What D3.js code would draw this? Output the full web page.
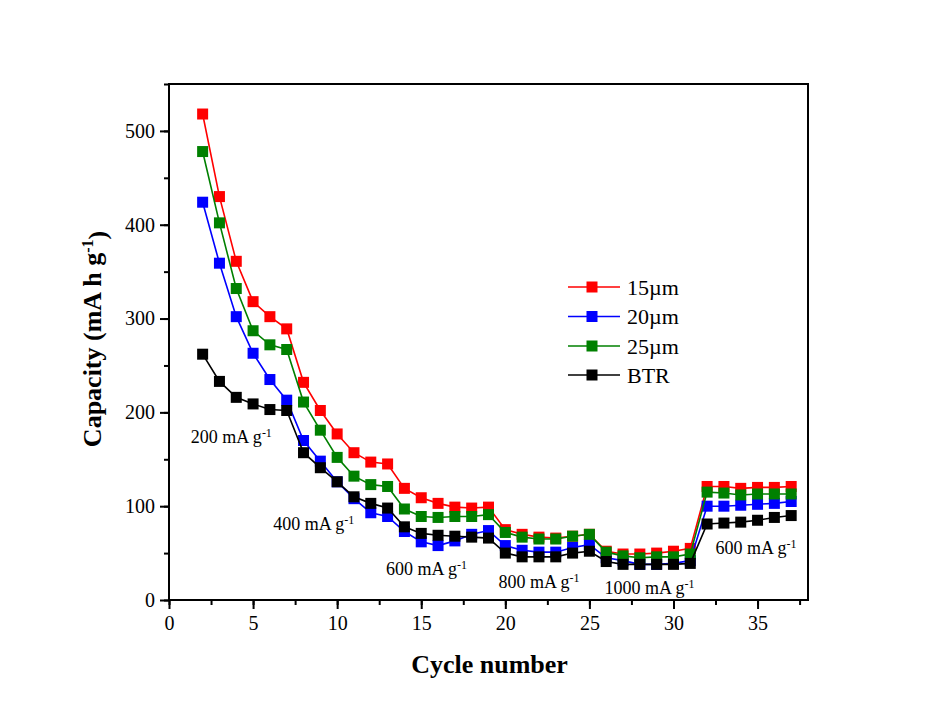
<!DOCTYPE html>
<html>
<head>
<meta charset="utf-8">
<script src="https://cdn.jsdelivr.net/npm/d3@7"></script>
<style>
  html, body { margin: 0; padding: 0; background: #fff; }
  svg { display: block; }
  text { font-family: "Liberation Serif", "Times New Roman", serif; }
</style>
</head>
<body>
<svg id="chart" width="940" height="720"></svg>
<script>
// ---------- data ----------
const cycles = d3.range(2, 38);
const seriesNames = ["15\u00b5m", "20\u00b5m", "25\u00b5m", "BTR"];
const seriesColors = ["#ff0000", "#0000ff", "#008000", "#000000"];
const cap15 = [518,430,361,318,302,289,232,202,177,157,147,145,
               119,109,103,99,98,99,75,70,67,66,68,70,
               52,49,49,50,52,55,121,121,119,120,120,121];
const cap20 = [424,359,302,263,235,213,170,148,126,108,93,89,
               73,62,58,63,70,74,58,53,51,51,56,59,
               45,42,38,38,39,42,100,100,101,102,103,105];
const cap25 = [478,402,332,287,272,267,211,181,152,132,123,121,
               97,89,88,89,89,91,72,67,65,65,68,70,
               51,47,45,46,46,49,115,114,112,113,113,113];
const capBTR = [262,233,216,209,203,202,157,141,126,110,103,98,
                78,71,69,68,67,66,50,46,46,46,50,52,
                41,38,38,38,38,39,81,82,83,85,88,90];
const xTicks = [0,5,10,15,20,25,30,35];
const yTicks = [0,100,200,300,400,500];
const rateLabels = ["200 mA g", "400 mA g", "600 mA g", "800 mA g", "1000 mA g", "600 mA g"];
const rateLabelPos = [[1.3, 167], [6.2, 75], [12.9, 27], [19.6, 13], [25.9, 6], [32.5, 49]];

// ---------- layout ----------
const svg = d3.select("#chart");
const pL = 169, pR = 808, pT = 84, pB = 600;
const x = d3.scaleLinear().domain([0, 38]).range([pL, pR]);
const y = d3.scaleLinear().domain([0, 550]).range([pB, pT]);

const yMinor = d3.range(0, 551, 50);
const xMinor = d3.range(0, 38.1, 2.5);

const gxMinor = svg.append("g").attr("transform", `translate(0,${pB})`)
  .call(d3.axisBottom(x).tickValues(xMinor).tickSize(5).tickFormat(""));
const gx = svg.append("g").attr("transform", `translate(0,${pB})`)
  .call(d3.axisBottom(x).tickValues(xTicks).tickSize(9).tickPadding(7).tickFormat(d3.format("d")));
const gyMinor = svg.append("g").attr("transform", `translate(${pL},0)`)
  .call(d3.axisLeft(y).tickValues(yMinor).tickSize(5).tickFormat(""));
const gy = svg.append("g").attr("transform", `translate(${pL},0)`)
  .call(d3.axisLeft(y).tickValues(yTicks).tickSize(9).tickPadding(5).tickFormat(d3.format("d")));

[gx, gy, gxMinor, gyMinor].forEach(g => {
  g.select(".domain").remove();
  g.selectAll(".tick line").attr("stroke", "#000").attr("stroke-width", 2);
  g.selectAll(".tick text").attr("fill", "#000")
    .style("font-family", '"Liberation Serif", "Times New Roman", serif')
    .style("font-size", "20px");
});

// frame
svg.append("rect")
  .attr("x", pL).attr("y", pT)
  .attr("width", pR - pL).attr("height", pB - pT)
  .attr("fill", "none").attr("stroke", "#000").attr("stroke-width", 2);

// series
const allSeries = [cap15, cap20, cap25, capBTR];
const line = d3.line().x((d, i) => x(cycles[i])).y(d => y(d));
const ms = 11;
allSeries.forEach((vals, si) => {
  const g = svg.append("g");
  g.append("path").datum(vals)
    .attr("d", line).attr("fill", "none")
    .attr("stroke", seriesColors[si]).attr("stroke-width", 1.6);
  g.selectAll("rect").data(vals).join("rect")
    .attr("x", (d, i) => x(cycles[i]) - ms / 2)
    .attr("y", d => y(d) - ms / 2)
    .attr("width", ms).attr("height", ms)
    .attr("fill", seriesColors[si]);
});

// rate labels
rateLabels.forEach((t, i) => {
  const tx = svg.append("text")
    .attr("x", x(rateLabelPos[i][0])).attr("y", y(rateLabelPos[i][1]))
    .attr("fill", "#000").style("font-size", "18px");
  tx.append("tspan").text(t);
  tx.append("tspan").text("-1").attr("dy", "-0.5em").style("font-size", "12px");
});

// legend
const legY = [287, 316.5, 346, 375];
seriesNames.forEach((n, i) => {
  svg.append("line").attr("x1", 568).attr("x2", 620)
    .attr("y1", legY[i]).attr("y2", legY[i])
    .attr("stroke", seriesColors[i]).attr("stroke-width", 1.6);
  svg.append("rect").attr("x", 592 - ms / 2).attr("y", legY[i] - ms / 2)
    .attr("width", ms).attr("height", ms).attr("fill", seriesColors[i]);
  svg.append("text").attr("x", 627).attr("y", legY[i]).attr("dy", "0.36em")
    .attr("fill", "#000").style("font-size", "22px").text(n);
});

// axis titles
svg.append("text")
  .attr("x", (pL + pR) / 2 + 1).attr("y", 673)
  .attr("text-anchor", "middle").attr("fill", "#000")
  .style("font-size", "26px").style("font-weight", "bold")
  .text("Cycle number");

const yt = svg.append("text")
  .attr("transform", "translate(101,339) rotate(-90)")
  .attr("text-anchor", "middle").attr("fill", "#000")
  .style("font-size", "26px").style("font-weight", "bold");
yt.append("tspan").text("Capacity (mA h g");
yt.append("tspan").text("-1").attr("dy", "-0.5em").style("font-size", "16px");
yt.append("tspan").text(")").attr("dy", "0.5em").style("font-size", "26px");
</script>
</body>
</html>
